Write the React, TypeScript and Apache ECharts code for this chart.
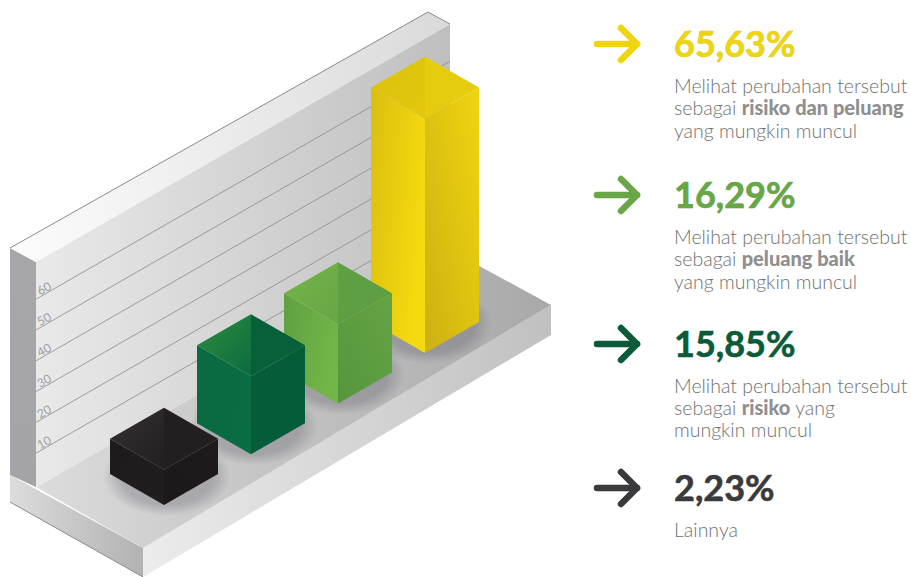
import React, { useEffect, useRef } from "react";
import * as echarts from "echarts";

// Survey shares, one isometric column per answer
const categories = ["Lainnya", "Risiko", "Peluang baik", "Risiko dan peluang"];
const shareValues = [2.23, 15.85, 16.29, 65.63];
const wallTicks = [10, 20, 30, 40, 50, 60];

// Legend copy, listed from the largest share downwards
const legendValues = ["65,63%", "16,29%", "15,85%", "2,23%"];
const legendColors = ["#efd50f", "#68a648", "#0b5a3a", "#3a3a3c"];
const legendOutlines = ["#cdb514", "#548f3c", "#0b5a3a", "#3a3a3c"];
const legendLines = [
  ["Melihat perubahan tersebut", "sebagai {b|risiko dan peluang}", "yang mungkin muncul"],
  ["Melihat perubahan tersebut", "sebagai {b|peluang baik}", "yang mungkin muncul"],
  ["Melihat perubahan tersebut", "sebagai {b|risiko} yang", "mungkin muncul"],
  ["Lainnya"],
];

// Face shades per column: top-left start/end, top-right, left face start/end, right face start/end
const faceShades = [
  ["#332e2f", "#241f20", "#231f20", "#1f1b1c", "#211d1e", "#1c1819", "#1f1b1c"],
  ["#2f8c3e", "#0b6b40", "#07603a", "#0a6a41", "#0a6c42", "#055c39", "#055c39"],
  ["#74b548", "#66a645", "#5f9f43", "#5f9f40", "#72b649", "#56953d", "#64a444"],
  ["#dcc20d", "#e2c70e", "#e6cc0f", "#dabe10", "#f5da0f", "#cdb012", "#efd510"],
];

const HALF_W = 54;
const HALF_D = 31;
const BAR_RISE = 50.7;
const WALL_RISE = 238;

const grad = (x: number, y: number, x2: number, y2: number, a: string, b: string) =>
  new echarts.graphic.LinearGradient(x, y, x2, y2, [
    { offset: 0, color: a },
    { offset: 1, color: b },
  ]);

const poly = (points: number[][], fill: any, z = 0, extra: any = {}) => ({
  type: "polygon",
  z,
  shape: { points },
  style: { fill, ...extra },
});

// Plinth and back wall of the isometric stage
const stage = [
  poly([[10, 475], [143, 548], [143, 577], [10, 502]], grad(0, 0, 1, 0, "#dcdcdc", "#b2b2b2")),
  poly([[143, 548], [551, 305], [551, 335], [143, 577]], grad(0, 0, 1, 0, "#ececec", "#c0c0c0")),
  poly([[36, 487], [450, 250], [551, 305], [143, 548]], grad(0, 0, 1, 0, "#dcdcdc", "#a8a8a8")),
  poly([[10, 248], [36, 262], [36, 487], [10, 475]], grad(0, 0, 0, 1, "#a6a6ab", "#a4a4a8")),
  poly([[36, 262], [450, 24], [450, 250], [36, 487]], grad(0, 0, 1, 0, "#e9e9e9", "#bfbfbf")),
  poly([[10, 248], [428, 12], [450, 24], [36, 262]], grad(0, 0, 1, 0, "#fcfcfc", "#dadada")),
  {
    type: "polyline",
    z: 0,
    shape: { points: [[10, 248], [428, 12], [450, 24]] },
    style: { stroke: "#6f6f6f", lineWidth: 0.8, fill: null },
  },
  {
    type: "polyline",
    z: 0,
    shape: { points: [[10, 502], [143, 577]] },
    style: { stroke: "#8a8a8a", lineWidth: 1, fill: null },
  },
];

const legendCenters = [44, 195, 344, 488];
const legendLineY = [
  [85, 107, 130],
  [236, 258, 281],
  [385, 407, 429],
  [529],
];

const legendGraphics = legendValues.flatMap((label, i) => {
  const y = legendCenters[i];
  const color = legendColors[i];
  return [
    {
      type: "polyline",
      z: 1,
      shape: { points: [[597, y], [637, y]] },
      style: { stroke: color, lineWidth: 6.5, lineCap: "round", fill: null },
    },
    {
      type: "polyline",
      z: 1,
      shape: { points: [[621, y - 16], [637, y], [621, y + 16]] },
      style: { stroke: color, lineWidth: 6.5, lineCap: "round", lineJoin: "round", fill: null },
    },
    {
      type: "text",
      z: 1,
      x: 674,
      y: y - 1,
      style: {
        text: label,
        fill: color,
        stroke: legendOutlines[i],
        lineWidth: 0.6,
        font: "bold 36px Lato",
        textVerticalAlign: "middle",
      },
    },
    ...legendLines[i].map((line, k) => ({
      type: "text",
      z: 1,
      x: 674,
      y: legendLineY[i][k],
      style: {
        text: line,
        fill: "#707070",
        font: "300 19.5px Lato",
        textVerticalAlign: "middle",
        rich: { b: { font: "900 20px Lato", fill: "#8f8f8f" } },
      },
    })),
  ];
});

function renderColumn(params: any, api: any) {
  const i = api.value(0);
  const v = api.value(1);
  const center = api.coord([i, v]);
  const floor = api.coord([i, -9]);
  const cx = center[0];
  const rise = i * BAR_RISE;
  const bottom = floor[1] - rise;
  const h = floor[1] - center[1];
  const s = faceShades[i];
  const z2 = 10 - i;
  const frontTop = bottom - h;
  const midTop = frontTop - HALF_D;
  const backTop = frontTop - 2 * HALF_D;
  const midBottom = bottom - HALF_D;
  const L = cx - HALF_W;
  const R = cx + HALF_W;
  const shape = (points: number[][], fill: any) => ({
    type: "polygon",
    z2,
    shape: { points },
    style: { fill },
  });
  return {
    type: "group",
    children: [
      {
        type: "ellipse",
        z2: 0,
        shape: { cx: cx + 3, cy: midBottom + 2, rx: HALF_W + 10, ry: HALF_D + 9 },
        style: {
          fill: new echarts.graphic.RadialGradient(0.5, 0.5, 0.5, [
            { offset: 0, color: "rgba(70,70,85,0.3)" },
            { offset: 0.72, color: "rgba(70,70,85,0.26)" },
            { offset: 1, color: "rgba(70,70,85,0)" },
          ]),
        },
      },
      shape([[L, midBottom], [cx, bottom], [cx, frontTop], [L, midTop]], grad(0, 0, 1, 0.4, s[3], s[4])),
      shape([[cx, bottom], [R, midBottom], [R, midTop], [cx, frontTop]], grad(0, 1, 1, 0, s[5], s[6])),
      shape([[L, midTop], [cx, backTop], [cx, frontTop]], grad(0, 0, 1, 1, s[0], s[1])),
      shape([[cx, backTop], [R, midTop], [cx, frontTop]], s[2]),
    ],
  };
}

function renderWallTick(params: any, api: any) {
  const v = api.value(0);
  const a = api.coord([0, v]);
  const b = api.coord([1, v]);
  return {
    type: "group",
    children: [
      {
        type: "line",
        shape: { x1: a[0], y1: a[1], x2: b[0], y2: b[1] - WALL_RISE },
        style: { stroke: "#8a8a8a", lineWidth: 0.8 },
      },
      {
        type: "text",
        x: a[0] + 8,
        y: a[1] - 11,
        rotation: 0.5,
        style: {
          text: String(v),
          fill: "#a0a0a0",
          font: "12px Lato",
          textAlign: "center",
          textVerticalAlign: "middle",
        },
      },
    ],
  };
}

export default function App() {
  const ref = useRef<HTMLDivElement>(null);

  useEffect(() => {
    document.body.style.margin = "0";
    document.body.style.overflow = "hidden";
    const chart = echarts.init(ref.current!, null, { renderer: "svg" });
    chart.setOption({
      animation: false,
      backgroundColor: "#ffffff",
      grid: [
        { left: 120.5, top: 257, width: 348, height: 248 },
        { left: 36, top: 268.4, width: 414, height: 215.6 },
      ],
      xAxis: [
        { type: "category", gridIndex: 0, data: categories, show: false },
        { type: "value", gridIndex: 1, min: 0, max: 1, show: false },
      ],
      yAxis: [
        { type: "value", gridIndex: 0, min: -9, max: 70, show: false },
        { type: "value", gridIndex: 1, min: 0, max: 70, show: false },
      ],
      graphic: [...stage, ...legendGraphics],
      series: [
        {
          type: "custom",
          name: "Garis dinding",
          xAxisIndex: 1,
          yAxisIndex: 1,
          z: 2,
          silent: true,
          renderItem: renderWallTick,
          encode: { y: 0 },
          data: wallTicks.map((t) => [t]),
        },
        {
          type: "custom",
          name: "Persentase",
          xAxisIndex: 0,
          yAxisIndex: 0,
          z: 3,
          silent: true,
          renderItem: renderColumn,
          encode: { x: 0, y: 1 },
          data: shareValues.map((v, i) => [i, v]),
        },
      ],
    });
    return () => chart.dispose();
  }, []);

  return <div ref={ref} style={{ position: "absolute", left: 0, top: 0, width: 911, height: 577 }} />;
}
